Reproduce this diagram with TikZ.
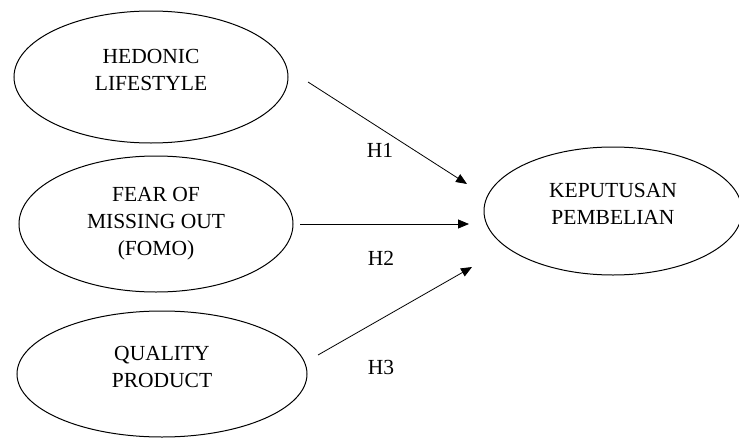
\documentclass[tikz,border=0pt]{standalone}
\usepackage{fontspec}
\setmainfont{Liberation Serif}
\usetikzlibrary{shapes.geometric,arrows.meta}

\begin{document}
\begin{tikzpicture}[
    x=1pt,
    y=-1pt,
    every node/.style={font=\fontsize{21.5}{27}\selectfont},
    construct/.style={ellipse, draw, line width=1pt, align=center, inner sep=0pt},
    raised/.style={text depth=14pt},
    effect/.style={line width=0.8pt, -{Triangle[length=11pt,width=9pt]}},
    hyp/.style={inner sep=0pt}
]

% =========================================================
% AREA
% =========================================================

\useasboundingbox (0,0) rectangle (739,439);

% =========================================================
% VARIABILI INDIPENDENTI
% =========================================================

\node[construct, raised, minimum width=274pt, minimum height=132pt]
(hedonic) at (151,77) {HEDONIC\\LIFESTYLE};

\node[construct, minimum width=274pt, minimum height=136pt]
(fomo) at (156,224) {FEAR OF\\MISSING OUT\\(FOMO)};

\node[construct, raised, minimum width=290pt, minimum height=126pt]
(quality) at (162,374) {QUALITY\\PRODUCT};

% =========================================================
% VARIABILE DIPENDENTE
% =========================================================

\node[construct, raised, minimum width=258pt, minimum height=128pt]
(keputusan) at (613,211) {KEPUTUSAN\\PEMBELIAN};

% =========================================================
% FRECCE
% =========================================================

% Estremi
\coordinate (h1s) at (308,82);
\coordinate (h1e) at (467,184);
\coordinate (h2s) at (300,224);
\coordinate (h2e) at (469,224);
\coordinate (h3s) at (318,355);
\coordinate (h3e) at (472,267);

\draw[effect] (h1s) -- (h1e);
\draw[effect] (h2s) -- (h2e);
\draw[effect] (h3s) -- (h3e);

% Etichette
\node[hyp] (h1) at (380,150) {H1};
\node[hyp] (h2) at (381,258) {H2};
\node[hyp] (h3) at (381,367) {H3};

\end{tikzpicture}
\end{document}
